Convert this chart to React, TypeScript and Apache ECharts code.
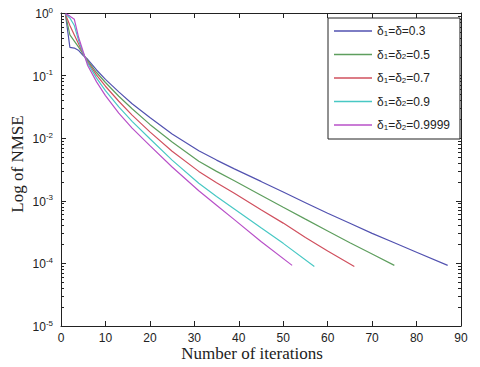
import React, { useEffect, useRef } from 'react';
import * as echarts from 'echarts';

// Series names (plain) and legend labels (with subscripts as rich tags)
const seriesNames = ['s03', 's05', 's07', 's09', 's9999'];
const legendLabels = [
  'δ{sub|1}=δ=0.3',
  'δ{sub|1}=δ{sub|2}=0.5',
  'δ{sub|1}=δ{sub|2}=0.7',
  'δ{sub|1}=δ{sub|2}=0.9',
  'δ{sub|1}=δ{sub|2}=0.9999',
];
const colors = ['#5252b0', '#5e9e5e', '#d0505e', '#48c8c4', '#b850c8'];

// Series 1: δ1=δ=0.3
const iters03 = [1, 2, 3, 4, 5, 6, 8, 10, 13, 16, 20, 25, 31, 35, 39, 45, 50, 55, 60, 65, 70, 75, 80, 87];
const nmse03 = [0.955, 0.282, 0.275, 0.251, 0.209, 0.182, 0.123, 0.0871, 0.055, 0.0355, 0.0214, 0.0117, 6.31e-3, 4.47e-3, 3.24e-3, 2.04e-3, 1.38e-3, 9.33e-4, 6.31e-4, 4.37e-4, 3.02e-4, 2.14e-4, 1.51e-4, 9.3e-5];

// Series 2: δ1=δ2=0.5
const iters05 = [1, 2, 3, 4, 5, 6, 8, 10, 13, 16, 20, 25, 31, 35, 39, 45, 50, 55, 60, 65, 70, 75];
const nmse05 = [0.955, 0.447, 0.355, 0.282, 0.219, 0.174, 0.112, 0.0776, 0.0468, 0.0295, 0.0166, 8.7e-3, 4.27e-3, 2.95e-3, 2.09e-3, 1.23e-3, 7.9e-4, 5.1e-4, 3.3e-4, 2.14e-4, 1.41e-4, 9.3e-5];

// Series 3: δ1=δ2=0.7
const iters07 = [1, 2, 3, 4, 5, 6, 8, 10, 13, 16, 20, 25, 31, 35, 39, 45, 50, 55, 60, 66];
const nmse07 = [0.955, 0.631, 0.447, 0.316, 0.224, 0.166, 0.102, 0.0676, 0.0389, 0.0234, 0.0126, 6.2e-3, 2.95e-3, 1.95e-3, 1.32e-3, 7.2e-4, 4.4e-4, 2.6e-4, 1.58e-4, 8.9e-5];

// Series 4: δ1=δ2=0.9
const iters09 = [1, 2, 3, 4, 5, 6, 8, 10, 13, 16, 20, 25, 31, 35, 39, 45, 50, 57];
const nmse09 = [0.955, 0.832, 0.631, 0.355, 0.229, 0.158, 0.0912, 0.0575, 0.0316, 0.0186, 9.8e-3, 4.47e-3, 1.91e-3, 1.17e-3, 7.4e-4, 3.7e-4, 2.09e-4, 8.9e-5];

// Series 5: δ1=δ2=0.9999
const iters9999 = [1, 2, 3, 4, 5, 6, 8, 10, 13, 16, 20, 25, 31, 35, 39, 45, 52];
const nmse9999 = [0.977, 0.891, 0.794, 0.398, 0.24, 0.145, 0.0794, 0.0479, 0.0251, 0.0145, 7.6e-3, 3.47e-3, 1.45e-3, 8.5e-4, 5.0e-4, 2.24e-4, 9.3e-5];

// Axis ticks
const xMin = 0;
const xMax = 90;
const xInterval = 10;
const yMin = 1e-5;
const yMax = 1;
const yTickExponents = ['0', '-1', '-2', '-3', '-4', '-5'];
const minorMultipliers = [2, 3, 4, 5, 6, 7, 8, 9];

const allIters = [iters03, iters05, iters07, iters09, iters9999];
const allNmse = [nmse03, nmse05, nmse07, nmse09, nmse9999];

export default function App() {
  const ref = useRef<HTMLDivElement>(null);

  useEffect(() => {
    if (!ref.current) return;
    const chart = echarts.init(ref.current, undefined, { renderer: 'svg' });

    const minorTicks: number[] = [];
    for (let e = -5; e < 0; e++) {
      for (const m of minorMultipliers) minorTicks.push(m * Math.pow(10, e));
    }

    const font = 'Liberation Sans, Arial, sans-serif';
    const serif = 'Liberation Serif, Times New Roman, serif';

    const yLabelFormatter = (v: number) => {
      const exp = String(Math.round(Math.log10(v)));
      const lab = yTickExponents.find((t) => t === exp) ?? exp;
      return '{b|10}{s|' + lab + '}';
    };

    const legendMap: Record<string, string> = {};
    seriesNames.forEach((n, i) => (legendMap[n] = legendLabels[i]));

    const baseY = {
      type: 'log' as const,
      logBase: 10,
      min: yMin,
      max: yMax,
      splitLine: { show: false },
    };

    chart.setOption({
      animation: false,
      backgroundColor: '#fff',
      grid: { left: 61, right: 19, top: 13, bottom: 41, containLabel: false },
      xAxis: [
        {
          type: 'value',
          position: 'bottom',
          min: xMin,
          max: xMax,
          interval: xInterval,
          axisLine: { lineStyle: { color: '#222', width: 1 } },
          axisTick: { inside: true, length: 5, lineStyle: { color: '#222' } },
          axisLabel: { color: '#222', fontFamily: font, fontSize: 12, margin: 6 },
          splitLine: { show: false },
        },
        {
          type: 'value',
          position: 'top',
          min: xMin,
          max: xMax,
          interval: xInterval,
          axisLine: { lineStyle: { color: '#222', width: 1 } },
          axisTick: { inside: true, length: 5, lineStyle: { color: '#222' } },
          axisLabel: { show: false },
          splitLine: { show: false },
        },
      ],
      yAxis: [
        {
          ...baseY,
          position: 'left',
          axisLine: { show: true, lineStyle: { color: '#222', width: 1 } },
          axisTick: { inside: true, length: 5, lineStyle: { color: '#222' } },
          axisLabel: {
            color: '#222',
            margin: 8,
            formatter: yLabelFormatter,
            rich: {
              b: { fontFamily: font, fontSize: 12, color: '#222', verticalAlign: 'bottom', lineHeight: 14 },
              s: { fontFamily: font, fontSize: 8, color: '#222', verticalAlign: 'top', lineHeight: 8 },
            },
          },
        },
        {
          ...baseY,
          position: 'left',
          axisLine: { show: false },
          axisTick: { inside: true, length: 3, customValues: minorTicks, lineStyle: { color: '#222' } },
          axisLabel: { show: false },
        },
        {
          ...baseY,
          position: 'right',
          axisLine: { show: true, lineStyle: { color: '#222', width: 1 } },
          axisTick: { inside: true, length: 5, lineStyle: { color: '#222' } },
          axisLabel: { show: false },
        },
        {
          ...baseY,
          position: 'right',
          axisLine: { show: false },
          axisTick: { inside: true, length: 3, customValues: minorTicks, lineStyle: { color: '#222' } },
          axisLabel: { show: false },
        },
      ],
      legend: {
        orient: 'vertical',
        left: 328,
        top: 18,
        width: 129,
        icon: 'rect',
        itemWidth: 38,
        itemHeight: 1.5,
        itemGap: 11.5,
        padding: [7, 10, 8, 6],
        borderColor: '#222',
        borderWidth: 1,
        backgroundColor: '#fff',
        data: seriesNames,
        formatter: (name: string) => legendMap[name],
        textStyle: {
          fontFamily: font,
          fontSize: 12,
          color: '#222',
          rich: {
            sub: { fontFamily: font, fontSize: 8, color: '#222', verticalAlign: 'bottom', lineHeight: 8 },
          },
        },
      },
      series: seriesNames.map((n, i) => ({
        name: n,
        type: 'line',
        xAxisIndex: 0,
        yAxisIndex: 0,
        symbol: 'none',
        showSymbol: false,
        smooth: false,
        lineStyle: { color: colors[i], width: 1.2 },
        itemStyle: { color: colors[i] },
        data: allIters[i].map((x, j) => [x, allNmse[i][j]]),
      })),
      graphic: [
        {
          type: 'text',
          x: 252,
          y: 353,
          style: {
            text: 'Number of iterations',
            font: '17px ' + serif,
            fill: '#222',
            textAlign: 'center',
            textVerticalAlign: 'middle',
          },
        },
        {
          type: 'text',
          x: 17,
          y: 164,
          rotation: Math.PI / 2,
          style: {
            text: 'Log of NMSE',
            font: '17px ' + serif,
            fill: '#222',
            textAlign: 'center',
            textVerticalAlign: 'middle',
          },
        },
      ],
    });

    return () => chart.dispose();
  }, []);

  return (
    <div
      ref={ref}
      style={{ position: 'fixed', left: 0, top: 0, width: 480, height: 367, background: '#fff' }}
    />
  );
}
